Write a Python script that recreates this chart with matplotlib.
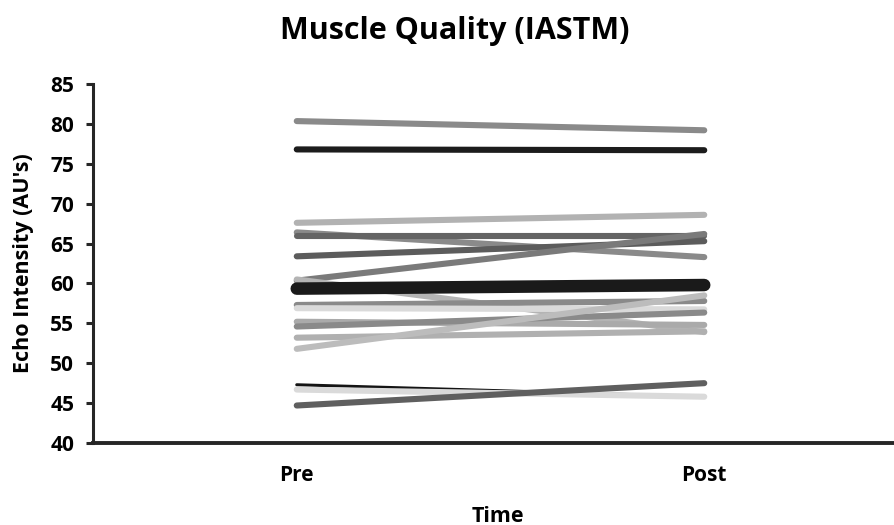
import matplotlib
matplotlib.use("Agg")
import matplotlib.pyplot as plt

times = ["Pre", "Post"]
pre_values = [80.35, 76.8, 67.6, 66.4, 66.0, 63.4, 60.35, 60.5, 57.3, 56.9, 55.2, 54.6, 53.2, 51.8, 47.3, 46.7, 44.7]
post_values = [79.2, 76.7, 68.6, 63.3, 66.0, 65.3, 66.2, 53.9, 57.8, 56.75, 54.8, 56.35, 54.0, 58.5, 45.8, 45.8, 47.5]
line_colors = ["#8a8a8a", "#1c1c1c", "#b2b2b2", "#8a8a8a", "#646464", "#5c5c5c", "#7a7a7a", "#b4b4b4",
               "#8a8a8a", "#dadada", "#aaaaaa", "#8a8a8a", "#b0b0b0", "#bcbcbc", "#141414", "#dadada", "#5f5f5f"]
mean_values = [59.35, 59.8]
yticks = [40, 45, 50, 55, 60, 65, 70, 75, 80, 85]

plt.rcParams['font.family'] = ['Open Sans', 'DejaVu Sans']
fig = plt.figure(figsize=(8.94, 5.25), dpi=100)
ax = fig.add_axes([93/894, 82/525, 815/894, 359/525])

x = list(range(len(times)))
for i, (a, b) in enumerate(zip(pre_values, post_values)):
    lw = 2.2 if i == 14 else 4.4
    ax.plot(x, [a, b], color=line_colors[i], lw=lw, solid_capstyle='round', zorder=2)
ax.plot(x, mean_values, color="#1a1a1a", lw=9, solid_capstyle='round', zorder=3)

ax.set_xlim(-0.5, 1.5)
ax.set_ylim(40, 85)
ax.set_yticks(yticks)
ax.set_xticks(x)
ax.set_xticklabels(times, fontsize=15, fontweight='bold')
ax.tick_params(axis='x', length=0, pad=15.5)
ax.tick_params(axis='y', length=5, width=2.2, color='#262626', labelsize=15, pad=8.5)
for lab in ax.get_yticklabels():
    lab.set_fontweight('bold')
for s in ['top', 'right']:
    ax.spines[s].set_visible(False)
ax.spines['left'].set_linewidth(2.2)
ax.spines['bottom'].set_linewidth(2.8)
ax.spines['left'].set_color('#262626')
ax.spines['bottom'].set_color('#262626')
ax.set_ylabel("Echo Intensity (AU's)", fontsize=15.5, fontweight='bold')
ax.yaxis.label.set_va('center')
ax.yaxis.set_label_coords((24 - 93) / 815, 0.5)
ax.set_xlabel("Time", fontsize=15.5, fontweight='bold')
ax.xaxis.label.set_va('center')
ax.xaxis.set_label_coords((498 - 93) / 815, (443 - 516) / 359)
fig.text(455/894, 1 - 31/525, "Muscle Quality (IASTM)", fontsize=22, fontweight='bold', ha='center', va='center')

fig.savefig("out.png", dpi=100)
